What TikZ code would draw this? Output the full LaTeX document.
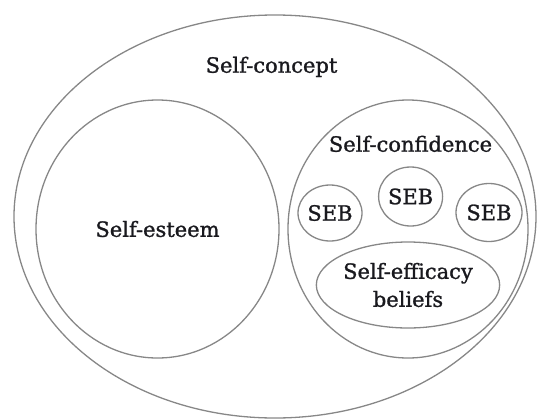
\documentclass[tikz,border=0pt]{standalone}
\usepackage{fontspec}
\setmainfont{DejaVu Serif}
\newfontface\labelface{DejaVu Serif}[FakeBold=1.2]
\usetikzlibrary{shapes.geometric, positioning}
\definecolor{rimgray}{RGB}{135,135,135}
\definecolor{inkgray}{RGB}{25,25,30}

\tikzset{
  area/.style={ellipse, draw=rimgray, line width=1.3pt, inner sep=0pt,
    text=inkgray, font=\labelface\fontsize{21}{28}\selectfont, align=center},
  tag/.style={text=inkgray, font=\labelface\fontsize{21}{28}\selectfont, inner sep=0pt, anchor=base}
}

\begin{document}
\begin{tikzpicture}[x=1pt,y=-1pt]
  \useasboundingbox (0,0) rectangle (538,418);

% define the outer areas
  \node[area, minimum width=522pt, minimum height=403pt] (concept) at (275,216.5) {};
  \node[area, minimum width=243pt, minimum height=258pt] (esteem) at (157.5,229) {Self-esteem};
  \node[area, minimum width=240pt, minimum height=258pt] (confidence) at (408,229) {};

% define the labels
  \node[tag] (concepttxt) at (271.5,72.7) {Self-concept};
  \node[tag] (confidencetxt) at (410.5,151.7) {Self-confidence};

% define the beliefs inside self-confidence
  \node[area, minimum width=64pt, minimum height=56pt] (seba) at (330,213) {SEB};
  \node[area, minimum width=64pt, minimum height=59pt] (sebb) at (410.6,196.5) {SEB};
  \node[area, minimum width=66pt, minimum height=58pt] (sebc) at (489,212.5) {SEB};
  \node[area, minimum width=158pt, minimum height=86pt] (efficacy) at (408,285) {Self-efficacy\\beliefs};

\end{tikzpicture}
\end{document}
